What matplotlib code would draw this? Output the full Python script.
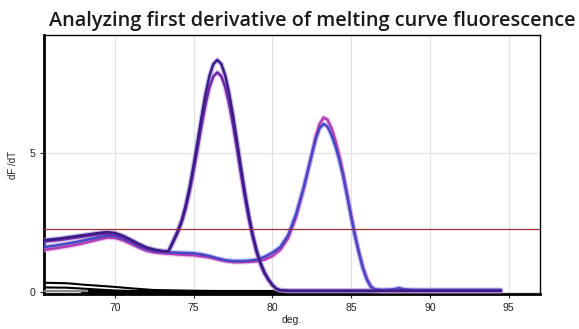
import matplotlib
matplotlib.use('Agg')
import matplotlib.pyplot as plt

plt.rcParams['font.family'] = 'Liberation Sans'

# ---- data ----
a1_x = [65.5, 66, 66.5, 67, 67.5, 68, 68.5, 69, 69.5, 70, 70.5, 71, 71.5, 72, 72.5, 73, 73.4,
        73.75, 74, 74.25, 74.5, 74.75, 75, 75.25, 75.5, 75.75, 76, 76.25, 76.5, 76.75, 77,
        77.25, 77.5, 77.75, 78, 78.25, 78.5, 78.75, 79, 79.25, 79.5, 79.75, 80, 80.25, 80.5,
        81, 85, 90, 94.5]
a1_y = [1.87, 1.90, 1.93, 1.97, 2.01, 2.05, 2.09, 2.13, 2.16, 2.13, 2.03, 1.89, 1.74, 1.61, 1.53,
        1.48, 1.47, 1.90, 2.21, 2.60, 3.13, 3.79, 4.57, 5.42, 6.29, 7.11, 7.77, 8.20, 8.35, 8.21,
        7.80, 7.16, 6.35, 5.44, 4.50, 3.60, 2.79, 2.08, 1.50, 1.05, 0.71, 0.46, 0.26, 0.12, 0.07,
        0.05, 0.05, 0.05, 0.05]

a2_x = a1_x
a2_y = [1.82, 1.85, 1.88, 1.92, 1.96, 2.00, 2.04, 2.08, 2.10, 2.07, 1.98, 1.85, 1.70, 1.58, 1.51,
        1.47, 1.46, 1.85, 2.16, 2.53, 3.02, 3.64, 4.37, 5.16, 5.98, 6.74, 7.36, 7.76, 7.90, 7.77,
        7.38, 6.77, 6.01, 5.15, 4.26, 3.41, 2.64, 1.97, 1.42, 0.99, 0.67, 0.44, 0.25, 0.12, 0.07,
        0.05, 0.05, 0.05, 0.05]

b1_x = [65.5, 66, 66.5, 67, 67.5, 68, 68.5, 69, 69.5, 70, 70.5, 71, 71.5, 72, 72.5, 73, 73.5,
        74, 74.5, 75, 75.5, 76, 76.5, 77, 77.5, 78, 78.5, 79, 79.5, 80, 80.5, 81, 81.5, 82,
        82.5, 82.75, 83, 83.25, 83.5, 83.75, 84, 84.25, 84.5, 84.75, 85, 85.25, 85.5, 85.75,
        86, 86.25, 86.5, 87, 87.7, 88, 88.4, 89, 90, 94.5]
b1_y = [1.62, 1.66, 1.70, 1.75, 1.80, 1.86, 1.92, 1.98, 2.03, 2.02, 1.93, 1.80, 1.66, 1.55, 1.48,
        1.45, 1.43, 1.42, 1.41, 1.40, 1.36, 1.30, 1.22, 1.15, 1.12, 1.12, 1.13, 1.17, 1.27, 1.42,
        1.62, 2.05, 2.80, 3.80, 4.95, 5.50, 5.90, 6.05, 5.95, 5.65, 5.25, 4.75, 4.15, 3.45, 2.70,
        2.00, 1.40, 0.85, 0.45, 0.20, 0.10, 0.08, 0.10, 0.15, 0.10, 0.08, 0.08, 0.08]

b2_x = b1_x
b2_y = [1.52, 1.56, 1.60, 1.65, 1.70, 1.76, 1.83, 1.90, 1.96, 1.95, 1.87, 1.74, 1.61, 1.49, 1.43,
        1.40, 1.38, 1.36, 1.34, 1.33, 1.29, 1.25, 1.18, 1.12, 1.08, 1.08, 1.09, 1.11, 1.17, 1.30,
        1.52, 1.95, 2.70, 3.75, 4.95, 5.60, 6.05, 6.28, 6.20, 5.90, 5.45, 4.90, 4.25, 3.50, 2.75,
        2.05, 1.42, 0.88, 0.47, 0.20, 0.09, 0.05, 0.05, 0.05, 0.05, 0.05, 0.05, 0.05]

# black / grey baseline traces
c1_x = [65.5, 67.0, 68.0, 69.0, 70.0, 71.0, 72.4, 75.0, 80.0, 86.0]
c1_y = [0.34, 0.32, 0.27, 0.23, 0.19, 0.14, 0.08, 0.05, 0.02, 0.0]
c2_x = [65.5, 67.0, 68.5, 70.0, 71.5, 73.0, 80.0, 94.5]
c2_y = [0.17, 0.16, 0.11, 0.06, 0.03, 0.0, 0.0, 0.0]
g_x = [65.5, 68.2]
g_y = [0.04, 0.04]

threshold = 2.27
x_ticks = [70, 75, 80, 85, 90, 95]
y_ticks = [0, 5]

fig = plt.figure(figsize=(5.79, 3.29), dpi=100)
fig.patch.set_facecolor('white')
ax = fig.add_axes([0.076, 0.106, 0.857, 0.787])

ax.set_xlim(65.5, 97.0)
ax.set_ylim(-0.07, 9.24)
ax.set_xticks(x_ticks)
ax.set_yticks(y_ticks)
ax.grid(True, color='#e2e2e2', linewidth=0.8)
ax.set_axisbelow(True)

ax.plot(c1_x, c1_y, color='black', lw=1.5, zorder=3)
ax.plot(c2_x, c2_y, color='black', lw=1.5, zorder=3)
ax.plot([68, 86], [0.0, 0.0], color='black', lw=3, zorder=3)
ax.plot(g_x, g_y, color='#8a8a8a', lw=1.6, zorder=3)

# melt curves (halo + line)
curves = [
    (b2_x, b2_y, '#b03cb4', '#e7a8e8'),
    (b1_x, b1_y, '#4848c4', '#a8a8ee'),
    (a2_x, a2_y, '#6e28a8', '#c8a0e0'),
    (a1_x, a1_y, '#3a1c88', '#a898d8'),
]
for cx, cy, col, halo in curves:
    ax.plot(cx, cy, color=halo, lw=3.6, alpha=0.6, zorder=4, solid_capstyle='round')
    ax.plot(cx, cy, color=col, lw=1.8, zorder=5, solid_capstyle='round')

ax.axhline(threshold, color='#a0303a', lw=0.9, zorder=6)

for s in ['left', 'bottom']:
    ax.spines[s].set_linewidth(2.0)
for s in ['top', 'right']:
    ax.spines[s].set_linewidth(1.0)
for s in ax.spines.values():
    s.set_color('black')

ax.tick_params(labelsize=7.5, colors='#222222', length=3, width=0.8)
ax.set_xlabel('deg.', fontsize=7.5, color='#222222', labelpad=1)
ax.set_ylabel('dF /dT', fontsize=7, color='#222222', labelpad=8)

fig.text(312 / 579, 1 - 21 / 329, 'Analyzing first derivative of melting curve fluorescence',
         ha='center', va='center', fontsize=14.3, fontweight='semibold',
         family='Open Sans', color='#1a1a1a')

fig.savefig('out.png', dpi=100, facecolor='white')
plt.close()
